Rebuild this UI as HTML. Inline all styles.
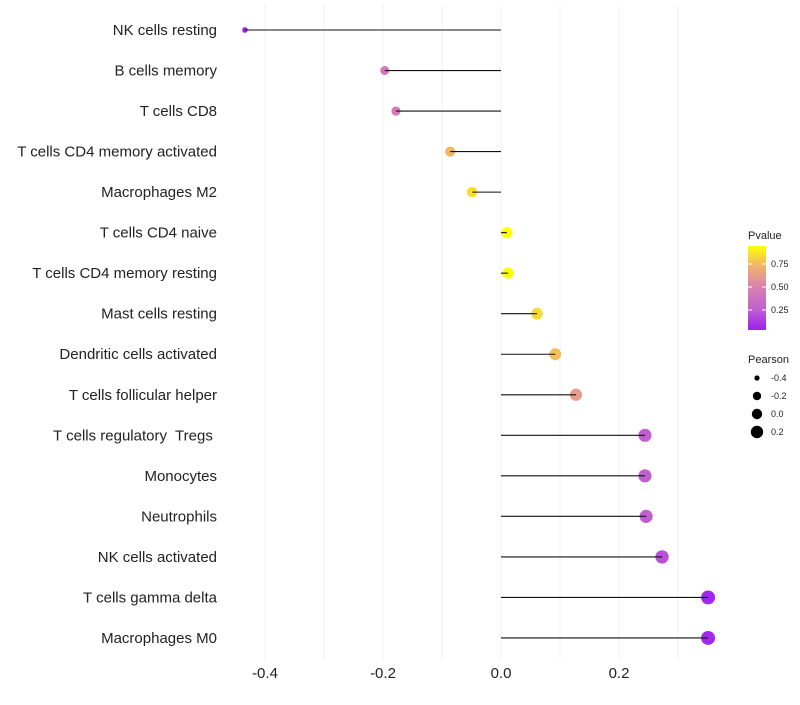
<!DOCTYPE html>
<html><head><meta charset="utf-8"><style>
body{margin:0;background:#fff;font-family:"Liberation Sans",sans-serif;}
text{white-space:pre;}
</style></head><body>
<svg id="chart" width="800" height="700" xmlns="http://www.w3.org/2000/svg">
<defs>
<linearGradient id="pgrad" x1="0" y1="1" x2="0" y2="0">
<stop offset="0" stop-color="#a020f0"/><stop offset="0.25" stop-color="#c060d0"/><stop offset="0.5" stop-color="#d880b0"/><stop offset="0.75" stop-color="#f0b070"/><stop offset="1" stop-color="#ffff00"/>
</linearGradient>
</defs>
<g id="grid"></g>
<g id="dots"></g>
<g id="stems"></g>
<g id="ylabels"></g>
<g id="xlabels"></g>
<g font-size="10" fill="#222">
<text x="748" y="239" font-size="11">Pvalue</text>
<rect x="748" y="246" width="18" height="84" fill="url(#pgrad)"/>
<g id="cbticks"></g>
</g>
<g fill="#222">
<text x="748" y="363" font-size="11">Pearson</text>
<g id="sizeleg"></g>
</g>
</svg>
<script>
const categories=["NK cells resting","B cells memory","T cells CD8","T cells CD4 memory activated","Macrophages M2","T cells CD4 naive","T cells CD4 memory resting","Mast cells resting","Dendritic cells activated","T cells follicular helper","T cells regulatory  Tregs ","Monocytes","Neutrophils","NK cells activated","T cells gamma delta","Macrophages M0"];
const pearson=[-0.434,-0.197,-0.178,-0.086,-0.049,0.010,0.012,0.061,0.092,0.127,0.244,0.244,0.246,0.273,0.351,0.351];
const pvalue=[0.04,0.44,0.45,0.74,0.86,0.97,0.97,0.84,0.76,0.62,0.26,0.26,0.25,0.20,0.06,0.06];
const xTicks=[-0.4,-0.2,0.0,0.2];
const xTickLabels=["-0.4","-0.2","0.0","0.2"];
const xMinor=[-0.3,-0.1,0.1,0.3];
const cbTicks=[0.25,0.50,0.75];
const sizeLegend=[-0.4,-0.2,0.0,0.2];
const NS="http://www.w3.org/2000/svg";
const x=v=>501+v*590;
const y=i=>30+i*40.53;
const r=v=>Math.sqrt(Math.max(4,20.25+52*(v+0.197)));
const cbY=p=>287-(p-0.5)*92;
const stops=[[160,32,240],[192,96,208],[216,128,176],[240,176,112],[255,255,0]];
function color(p){const t=Math.max(0,Math.min(1,(p-0.03)/0.92))*4;
const k=Math.min(3,Math.floor(t)),u=t-k,a=stops[k],b=stops[k+1];
return `rgb(${Math.round(a[0]+(b[0]-a[0])*u)},${Math.round(a[1]+(b[1]-a[1])*u)},${Math.round(a[2]+(b[2]-a[2])*u)})`;}
function mk(tag,attrs,parent){const e=document.createElementNS(NS,tag);for(const k in attrs)e.setAttribute(k,attrs[k]);document.getElementById(parent).appendChild(e);return e;}
xTicks.concat(xMinor).forEach(v=>{const l=mk('line',{x1:x(v),x2:x(v),y1:5,y2:660,stroke:'#f0f0f0','stroke-width':1},'grid');

});
categories.forEach((c,i)=>{
const d=mk('circle',{cx:x(pearson[i]),cy:y(i),r:r(pearson[i]),fill:color(pvalue[i])},'dots');


const l=mk('line',{x1:x(0),x2:x(pearson[i]),y1:y(i),y2:y(i),stroke:'#111','stroke-width':1.1},'stems');


const t=mk('text',{x:217,y:y(i)+5,'text-anchor':'end','font-size':15,fill:'#222'},'ylabels');
t.textContent=c;


});
xTicks.forEach((v,i)=>{const t=mk('text',{x:x(v),y:678,'text-anchor':'middle','font-size':15,fill:'#222'},'xlabels');
t.textContent=xTickLabels[i];

});
cbTicks.forEach(p=>{const l=mk('line',{x1:748,x2:752,y1:cbY(p),y2:cbY(p),stroke:'#fff'},'cbticks');


const l2=mk('line',{x1:762,x2:766,y1:cbY(p),y2:cbY(p),stroke:'#fff'},'cbticks');


const t=mk('text',{x:771,y:cbY(p)+3,'font-size':9},'cbticks');t.textContent=p.toFixed(2);

});
const legR=[2.6,4.2,5.2,6.2];
sizeLegend.forEach((v,i)=>{const cy=378+i*18;
const c=mk('circle',{cx:757,cy:cy,r:legR[i],fill:'#000'},'sizeleg');


const t=mk('text',{x:771,y:cy+3,'font-size':9},'sizeleg');t.textContent=v.toFixed(1).replace('-0.0','0.0');

});
</script>
</body></html>
